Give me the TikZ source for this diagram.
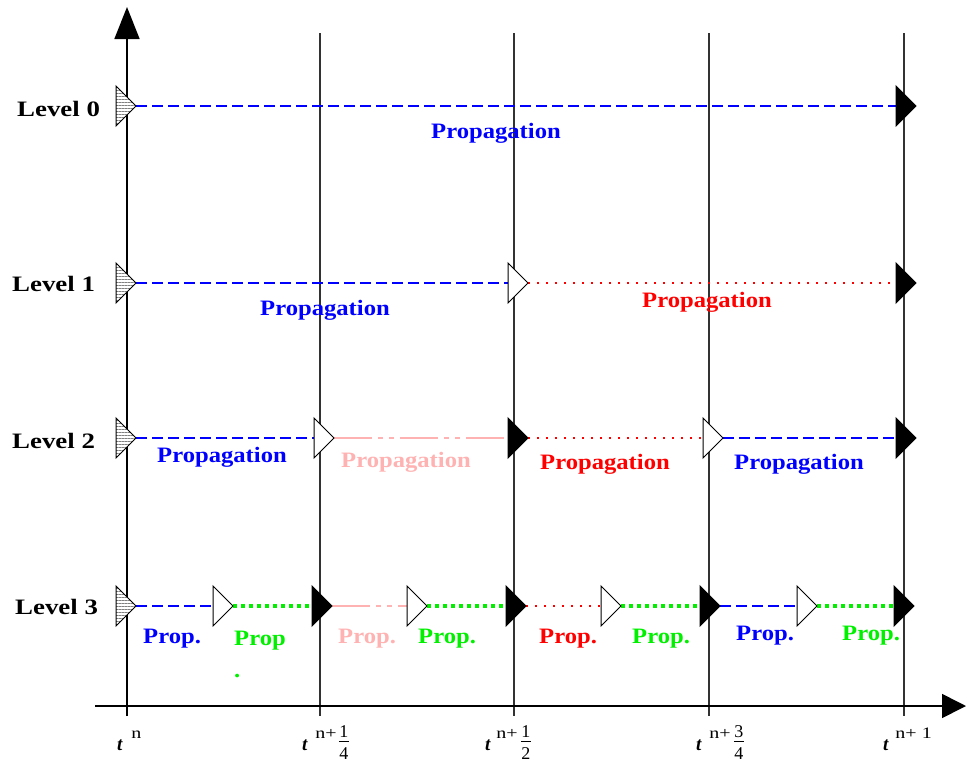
\documentclass[tikz,border=0pt]{standalone}
\usepackage{fontspec}
\newfontfamily\lblfont{Liberation Serif}[FakeStretch=1.12]
\newfontfamily\lvlfont{Liberation Serif}[FakeStretch=1.22]
\newfontfamily\tkfont{Liberation Serif}
\newfontfamily\supfont{Liberation Serif}[FakeStretch=1.25]
\usetikzlibrary{patterns.meta,arrows.meta}
\definecolor{pinkc}{RGB}{255,178,178}
\definecolor{greenc}{RGB}{0,240,0}
\definecolor{gridc}{RGB}{50,50,50}
\pgfdeclarelayer{bg}
\pgfsetlayers{bg,main}
% triangle: name, left x, y, style
\newcommand{\tri}[4]{%
  \coordinate (#1w) at (#2,#3);
  \coordinate (#1e) at (#2+20,#3);
  \draw[#4] (#2,#3-20) -- (#2+20,#3) -- (#2,#3+20) -- cycle;
}
\newcommand{\tT}{{\tkfont\bfseries\itshape\fontsize{19}{21}\selectfont t}}
\newcommand{\tS}{\supfont\fontsize{16}{18}\selectfont}
\newcommand{\tD}{\tkfont\fontsize{18}{20}\selectfont}
\newcommand{\tfr}[2]{\raisebox{-9pt}{\vbox{\offinterlineskip
  \hbox to 10pt{\hss\tD #1\hss}\kern3.5pt\hrule height 0.8pt\kern5pt
  \hbox to 10pt{\hss\tD #2\hss}}}}
\tikzset{
  gridline/.style={gridc, line width=1.5pt},
  axisline/.style={black, line width=1.6pt},
  bluel/.style={blue, line width=1.4pt, dash pattern=on 11pt off 5pt},
  redl/.style={red, line width=1.3pt, dash pattern=on 2pt off 7pt},
  greenl/.style={greenc, line width=3.3pt, dash pattern=on 3.5pt off 4.5pt},
  pinkl/.style={pinkc, line width=1.4pt, dash pattern=on 38pt off 6pt on 5pt off 6pt on 5pt off 6pt},
  hatchtri/.style={draw=black, line width=1pt, preaction={fill=white},
    pattern={Lines[angle=0,distance=3pt,line width=1pt]}, pattern color=gray},
  opentri/.style={draw=black, line width=1pt, fill=white},
  solidtri/.style={draw=black, line width=1pt, fill=black},
  lvl/.style={font=\lvlfont\bfseries\fontsize{22}{24}\selectfont, inner sep=0pt, anchor=base west},
  lab/.style={font=\lblfont\bfseries\fontsize{22}{24}\selectfont, inner sep=0pt, anchor=base west},
  tlab/.style={font=\tS, inner sep=0pt, anchor=base west},
}
\begin{document}
\begin{tikzpicture}[x=1pt,y=-1pt]
\useasboundingbox (0,0) rectangle (966,763);
% coordinates for axes and grid
\coordinate (ybot) at (127,716);
\coordinate (ytop) at (127,7);
\coordinate (xl) at (95,706);
\coordinate (xr) at (966,706);
\foreach \x/\n in {320/a,514/b,709/c,904/d}{
  \coordinate (top\n) at (\x,33);
  \coordinate (bot\n) at (\x,716);
}
% triangles (main layer, on top)
% Level 0
\tri{h0}{116}{106}{hatchtri}
\tri{b0}{896}{106}{solidtri}
% Level 1
\tri{h1}{116}{283}{hatchtri}
\tri{w1}{508}{283}{opentri}
\tri{b1}{896}{283}{solidtri}
% Level 2
\tri{h2}{116}{438}{hatchtri}
\tri{w2a}{314}{438}{opentri}
\tri{b2a}{508}{438}{solidtri}
\tri{w2b}{703}{438}{opentri}
\tri{b2b}{896}{438}{solidtri}
% Level 3
\tri{h3}{116}{606}{hatchtri}
\tri{w3a}{213}{606}{opentri}
\tri{b3a}{312}{606}{solidtri}
\tri{w3b}{407}{606}{opentri}
\tri{b3b}{506}{606}{solidtri}
\tri{w3c}{601}{606}{opentri}
\tri{b3c}{700}{606}{solidtri}
\tri{w3d}{797}{606}{opentri}
\tri{b3d}{894}{606}{solidtri}
\begin{pgfonlayer}{bg}
  \draw[gridline] (topa) -- (bota);
  \draw[gridline] (topb) -- (botb);
  \draw[gridline] (topc) -- (botc);
  \draw[gridline] (topd) -- (botd);
  \draw[axisline, -{Triangle[width=25pt,length=32pt]}] (ybot) -- (ytop);
  \draw[axisline, -{Triangle[width=24pt,length=24pt]}] (xl) -- (xr);
  % connectors
  \draw[bluel] (h0e) -- (b0w);
  \draw[bluel] (h1e) -- (w1w);
  \draw[redl] (w1e) -- (b1w);
  \draw[bluel] (h2e) -- (w2aw);
  \draw[pinkl] (w2ae) -- (b2aw);
  \draw[redl] (b2ae) -- (w2bw);
  \draw[bluel] (w2be) -- (b2bw);
  \draw[bluel] (h3e) -- (w3aw);
  \draw[greenl] (w3ae) -- (b3aw);
  \draw[pinkl] (b3ae) -- (w3bw);
  \draw[greenl] (w3be) -- (b3bw);
  \draw[redl] (b3be) -- (w3cw);
  \draw[greenl] (w3ce) -- (b3cw);
  \draw[bluel] (b3ce) -- (w3dw);
  \draw[greenl] (w3de) -- (b3dw);
\end{pgfonlayer}
% level labels
\node[lvl] (L0) at (17,116) {Level 0};
\node[lvl] (L1) at (12,291) {Level 1};
\node[lvl] (L2) at (12,448) {Level 2};
\node[lvl] (L3) at (15,614) {Level 3};
% propagation labels
\node[lab, blue] (p0) at (431,138) {Propagation};
\node[lab, blue] (p1a) at (260,315) {Propagation};
\node[lab, red] (p1b) at (642,307) {Propagation};
\node[lab, blue] (p2a) at (157,462) {Propagation};
\node[lab, pinkc] (p2b) at (341,467) {Propagation};
\node[lab, red] (p2c) at (540,469) {Propagation};
\node[lab, blue] (p2d) at (734,469) {Propagation};
\node[lab, blue] (p3a) at (143,643) {Prop.};
\node[lab, greenc] (p3b) at (234,645) {Prop};
\node[lab, greenc] (p3bdot) at (234,677) {.};
\node[lab, pinkc] (p3c) at (338,643) {Prop.};
\node[lab, greenc] (p3d) at (418,643) {Prop.};
\node[lab, red] (p3e) at (539,643) {Prop.};
\node[lab, greenc] (p3f) at (632,643) {Prop.};
\node[lab, blue] (p3g) at (736,640) {Prop.};
\node[lab, greenc] (p3h) at (842,640) {Prop.};
% time labels
\node[tlab] (t0) at (117,750) {\tT\hspace{9pt}\raisebox{12pt}{n}};
\node[tlab] (t1) at (302,750) {\tT\hspace{8pt}\raisebox{12pt}{n+}\hspace{2pt}\tfr{1}{4}};
\node[tlab] (t2) at (485,750) {\tT\hspace{6pt}\raisebox{12pt}{n+}\hspace{3pt}\tfr{1}{2}};
\node[tlab] (t3) at (696,750) {\tT\hspace{8pt}\raisebox{12pt}{n+}\hspace{3pt}\tfr{3}{4}};
\node[tlab] (t4) at (883,750) {\tT\hspace{7pt}\raisebox{12pt}{n+\hspace{5pt}1}};
\end{tikzpicture}
\end{document}
